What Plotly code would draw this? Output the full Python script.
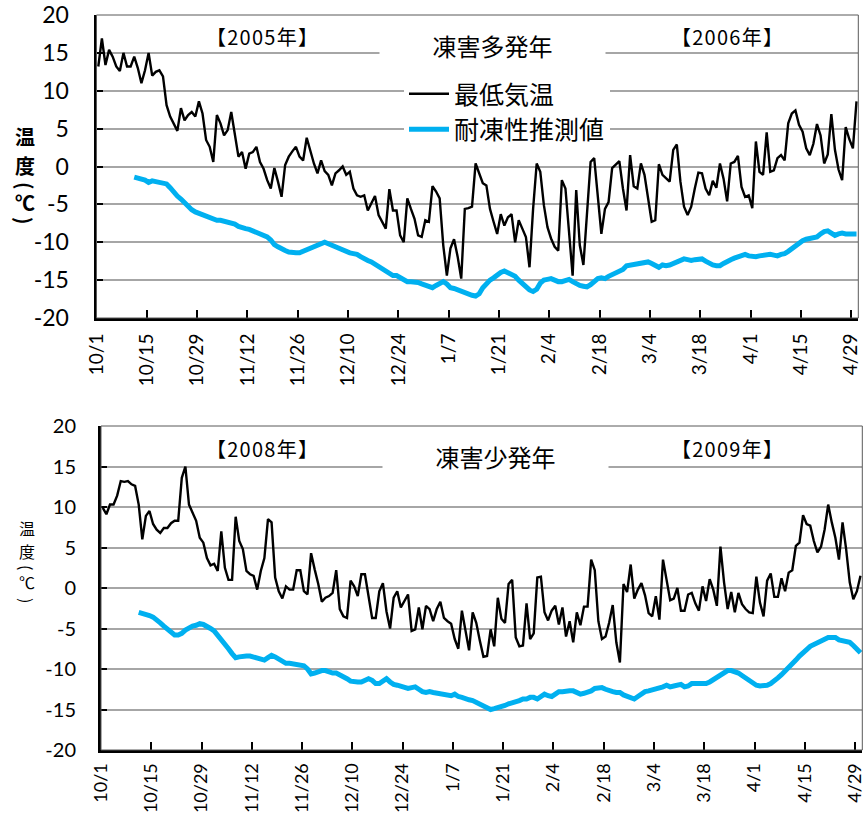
import plotly.graph_objects as go
import pandas as pd

W, H = 868, 814

tick_labels = ["10/1", "10/15", "10/29", "11/12", "11/26", "12/10", "12/24", "1/7",
               "1/21", "2/4", "2/18", "3/4", "3/18", "4/1", "4/15", "4/29"]
y_ticks = [-20, -15, -10, -5, 0, 5, 10, 15, 20]

# daily minimum temperature, 10/1 - 4/30
tmin_2005 = [
    13.2, 16.9, 13.4, 15.4, 14.5, 13.2, 12.6, 15.0, 13.2, 13.2,
    14.5, 13.0, 11.0, 12.7, 15.0, 12.0, 12.5, 12.7, 11.9, 8.1,
    6.6, 5.7, 4.7, 7.7, 6.1, 6.8, 7.2, 6.6, 8.6, 7.0,
    3.5, 2.6, 0.6, 6.8, 5.7, 4.1, 4.8, 7.2, 4.1, 1.3,
    1.9, -0.3, 1.7, 1.9, 2.6, 0.6, -0.3, -1.8, -2.9, -0.2,
    -2.0, -4.0, 0.2, 1.3, 2.0, 2.6, 1.3, 0.8, 3.8, 1.9,
    0.4, -0.9, 0.8, -0.6, -1.1, -2.5, -0.9, -0.5, 0.0, -1.1,
    -0.7, -2.9, -3.8, -4.0, -3.8, -5.8, -4.9, -3.9, -6.4, -7.3,
    -8.2, -3.0, -5.8, -5.8, -9.1, -10.0, -4.2, -5.6, -6.9, -9.1,
    -9.3, -7.1, -7.3, -2.6, -3.3, -4.2, -10.4, -14.4, -10.8, -9.6,
    -11.9, -14.8, -5.6, -5.5, -5.3, 0.4, -1.0, -2.2, -2.5, -5.6,
    -7.3, -8.9, -6.3, -7.8, -6.7, -6.3, -10.0, -7.1, -8.2, -9.3,
    -13.3, -5.6, 0.4, -0.7, -5.1, -8.0, -9.5, -10.6, -11.1, -1.8,
    -2.9, -8.6, -14.4, -3.1, -10.4, -13.0, -6.0, 0.6, 1.1, -4.4,
    -8.9, -5.6, -4.7, -0.2, 0.2, 0.7, -2.9, -5.8, 1.5, -2.6,
    -2.9, 0.4, -1.1, -4.0, -7.3, -7.1, 0.3, -1.1, -1.6, -2.0,
    2.2, 2.9, -2.0, -5.3, -6.4, -5.3, -2.9, -0.8, -0.9, -2.9,
    -3.8, -1.9, -2.8, 0.4, -1.6, -4.6, 0.4, 0.6, 1.4, -2.7,
    -4.0, -3.8, -5.5, 3.3, -0.7, -1.1, 4.5, -0.7, -0.5, 1.1,
    1.5, 0.8, 5.7, 7.0, 7.4, 5.5, 4.6, 2.4, 1.5, 3.0,
    5.6, 4.1, 0.4, 1.6, 6.9, 2.2, -0.4, -1.8, 5.2, 3.6,
    2.4, 8.6,
]

# estimated freezing tolerance, from 10/11
hardiness_2005 = [
    -1.4, -1.5, -1.6, -1.8, -2.1, -1.9, -2.0, -2.1, -2.2, -2.3,
    -2.8, -3.4, -3.9, -4.3, -4.8, -5.3, -5.7, -6.0, -6.2, -6.4,
    -6.6, -6.8, -7.0, -7.1, -7.1, -7.2, -7.3, -7.4, -7.6, -7.9,
    -8.1, -8.2, -8.3, -8.5, -8.7, -8.9, -9.1, -9.3, -9.7, -10.3,
    -10.6, -10.9, -11.1, -11.3, -11.4, -11.4, -11.4, -11.2, -11.0, -10.7,
    -10.5, -10.4, -10.2, -10.0, -10.2, -10.4, -10.7, -10.9, -11.1, -11.2,
    -11.4, -11.5, -11.6, -11.9, -12.2, -12.4, -12.6, -12.9, -13.2, -13.6,
    -13.9, -14.2, -14.4, -14.4, -14.7, -14.9, -15.2, -15.2, -15.2, -15.3,
    -15.5, -15.7, -15.9, -16.0, -15.7, -15.4, -15.2, -15.5, -16.0, -16.1,
    -16.3, -16.5, -16.7, -16.9, -17.0, -17.1, -16.8, -16.0, -15.4, -15.0,
    -14.7, -14.3, -14.0, -13.8, -14.0, -14.3, -14.5, -15.0, -15.5, -15.9,
    -16.3, -16.5, -16.2, -15.4, -15.0, -14.9, -14.8, -15.0, -15.2, -15.2,
    -15.0, -14.9, -15.2, -15.5, -15.7, -15.8, -15.9, -15.6, -15.2, -14.8,
    -14.7, -14.8, -14.5, -14.3, -14.1, -13.9, -13.6, -13.1, -13.0, -13.0,
    -12.9, -12.8, -12.7, -12.6, -12.8, -13.1, -13.3, -13.0, -13.1, -13.0,
    -12.8, -12.5, -12.4, -12.2, -12.3, -12.4, -12.3, -12.2, -12.2, -12.5,
    -12.8, -13.0, -13.1, -13.1, -12.8, -12.5, -12.3, -12.1, -11.9, -11.7,
    -11.6, -11.8, -11.9, -11.9, -11.8, -11.7, -11.6, -11.6, -11.7, -11.8,
    -11.6, -11.5, -11.2, -10.8, -10.4, -10.1, -9.8, -9.6, -9.5, -9.4,
    -9.3, -8.9, -8.6, -8.5, -8.9, -9.1, -8.9, -8.8, -8.9, -8.9,
    -8.8, -8.9,
]

tmin_2008 = [
    9.9, 9.1, 10.3, 10.3, 11.4, 13.2, 13.1, 13.2, 12.8, 12.6,
    10.3, 6.0, 8.9, 9.5, 7.9, 7.2, 6.8, 7.4, 7.4, 8.0,
    8.3, 8.3, 13.6, 15.0, 10.3, 9.3, 8.3, 6.2, 5.6, 3.7,
    2.8, 3.0, 2.1, 7.0, 2.5, 1.0, 1.0, 8.8, 5.8, 4.8,
    2.1, 1.7, 1.5, -0.2, 2.1, 3.7, 8.5, 8.1, 1.3, -0.4,
    -1.3, 0.2, -0.2, -0.2, 2.2, 2.2, -0.4, -0.8, 4.3, 2.3,
    0.5, -1.7, -1.2, -1.0, -0.6, 2.2, -2.6, -3.5, -3.7, 0.9,
    0.2, -1.0, 1.7, 1.7, -1.2, -3.7, -3.7, -0.4, 0.6, -2.9,
    -5.0, -1.2, -0.4, -2.4, -1.6, -0.8, -5.3, -5.1, -2.4, -5.1,
    -2.2, -2.6, -4.1, -2.6, -1.7, -3.7, -4.1, -4.4, -6.3, -7.5,
    -2.8, -5.4, -7.7, -3.0, -4.3, -6.5, -8.5, -8.4, -5.1, -7.2,
    -1.2, -3.8, -4.3, 0.5, 1.0, -6.1, -7.2, -7.1, -1.9, -6.3,
    -5.6, 1.3, 1.4, -3.0, -4.0, -2.8, -2.2, -4.5, -2.4, -6.0,
    -4.1, -6.7, -3.0, -4.6, -2.3, -2.3, 3.5, 2.2, -4.1, -6.3,
    -6.0, -4.3, -2.1, -6.7, -9.2, 0.5, -0.5, 2.9, -1.3, -0.2,
    0.6, -0.9, -3.1, -3.5, -1.0, -3.9, 3.5, 1.0, -1.5, -1.3,
    0.0, -2.8, -2.8, -0.8, -0.6, -1.9, -2.8, 0.2, -1.6, 1.1,
    -0.2, -2.2, 5.1, 0.7, -2.6, -0.5, -3.0, -0.6, -2.0, -2.6,
    -3.0, -3.1, 1.4, -1.8, -3.5, 0.9, 1.8, -1.1, -1.1, 1.2,
    -0.4, 1.9, 2.2, 5.2, 5.6, 9.0, 7.9, 7.7, 5.8, 4.4,
    5.1, 7.2, 10.3, 8.1, 6.2, 3.5, 8.1, 4.8, 0.7, -1.4,
    -0.4, 1.5,
]

hardiness_2008 = [
    -3.0, -3.1, -3.3, -3.4, -3.6, -3.9, -4.3, -4.7, -5.1, -5.5,
    -5.8, -5.8, -5.6, -5.2, -4.9, -4.7, -4.6, -4.4, -4.5, -4.7,
    -5.0, -5.3, -5.8, -6.4, -6.9, -7.5, -8.1, -8.6, -8.5, -8.4,
    -8.4, -8.4, -8.5, -8.6, -8.8, -8.9, -8.6, -8.3, -8.5, -8.8,
    -9.1, -9.3, -9.3, -9.4, -9.4, -9.5, -9.6, -10.0, -10.6, -10.5,
    -10.3, -10.2, -10.2, -10.4, -10.5, -10.5, -10.7, -10.9, -11.2, -11.5,
    -11.6, -11.6, -11.6, -11.4, -11.2, -11.4, -11.8, -11.8, -11.5, -11.2,
    -11.6, -11.9, -12.0, -12.1, -12.3, -12.4, -12.3, -12.2, -12.5, -12.8,
    -12.9, -12.8, -12.9, -13.0, -13.1, -13.1, -13.2, -13.3, -13.1, -13.4,
    -13.5, -13.7, -13.8, -13.9, -14.1, -14.3, -14.6, -14.8, -15.0, -14.9,
    -14.8, -14.7, -14.5, -14.3, -14.2, -14.0, -13.9, -13.7, -13.7, -13.5,
    -13.5, -13.7, -13.4, -13.1, -13.3, -13.4, -13.1, -12.8, -12.8, -12.7,
    -12.7, -12.7, -12.9, -13.1, -13.0, -12.9, -12.7, -12.4, -12.3, -12.3,
    -12.5, -12.7, -12.8, -12.9, -12.9, -13.2, -13.4, -13.6, -13.7, -13.4,
    -13.1, -12.8, -12.7, -12.6, -12.5, -12.3, -12.2, -12.0, -12.2, -12.1,
    -12.0, -11.9, -12.2, -12.1, -11.8, -11.8, -11.8, -11.9, -11.8, -11.6,
    -11.3, -11.0, -10.8, -10.4, -10.2, -10.2, -10.3, -10.5, -10.8, -11.1,
    -11.4, -11.7, -12.0, -12.1, -12.1, -12.0, -11.8, -11.5, -11.1, -10.7,
    -10.3, -9.8, -9.4, -8.9, -8.4, -7.9, -7.6, -7.2, -7.0, -6.7,
    -6.5, -6.3, -6.1, -6.1, -6.1, -6.4, -6.5, -6.5, -6.7, -7.1,
    -7.5, -8.0,
]

HARD_START = 10  # first day with a tolerance estimate (10/11)

seasons = [
    dict(start="2005-10-01", end="2006-05-01", tmin=tmin_2005, hard=hardiness_2005,
         y1="【2005年】", y2="【2006年】", title="凍害多発年"),
    dict(start="2008-10-01", end="2009-05-01", tmin=tmin_2008, hard=hardiness_2008,
         y1="【2008年】", y2="【2009年】", title="凍害少発年"),
]

BLACK = "#000000"
BLUE = "#00B0F0"
GRID = "#A6A6A6"
JP = "Noto Sans CJK JP"
NUM = "Lato, Noto Sans CJK JP"
HS = "\u200a"  # hair space for wider letter spacing

# plot areas in pixels (left, right, top, bottom)
areas = [(96.5, 858.3, 15, 318), (101, 862.3, 426, 750)]

fig = go.Figure()
for k, s in enumerate(seasons):
    xs = pd.date_range(pd.Timestamp(s["start"]) + pd.Timedelta(hours=12), periods=len(s["tmin"]), freq="D")
    xh = xs[HARD_START:HARD_START + len(s["hard"])]
    xa = "x" if k == 0 else "x2"
    ya = "y" if k == 0 else "y2"
    fig.add_trace(go.Scatter(x=xh, y=s["hard"], mode="lines", name="耐凍性推測値",
                             line=dict(color=BLUE, width=5), xaxis=xa, yaxis=ya,
                             showlegend=(k == 0), legendrank=2))
    fig.add_trace(go.Scatter(x=xs, y=s["tmin"], mode="lines", name="最低気温",
                             line=dict(color=BLACK, width=2.4), xaxis=xa, yaxis=ya,
                             showlegend=(k == 0), legendrank=1))

layout = dict(width=W, height=H, margin=dict(l=0, r=0, t=0, b=0),
              paper_bgcolor="white", plot_bgcolor="white", showlegend=True)

shapes = []
annotations = []
for k, s in enumerate(seasons):
    l, r, t, b = areas[k]
    sfx = "" if k == 0 else "2"
    tick_dates = pd.date_range(s["start"], periods=len(tick_labels), freq="14D")
    layout["xaxis" + sfx] = dict(
        domain=[l / W, r / W], anchor="y" + sfx, type="date",
        range=[s["start"], s["end"]], tickvals=list(tick_dates), ticktext=tick_labels,
        tickangle=-90, ticks="inside", ticklen=8, tickwidth=2, tickcolor=BLACK,
        showline=True, linecolor=BLACK, linewidth=3, showgrid=False, zeroline=False,
        tickfont=dict(family=NUM, size=(19 if k == 0 else 18), color=BLACK),
        ticklabelstandoff=(5 if k == 0 else 3), automargin=False,
    )
    layout["yaxis" + sfx] = dict(
        domain=[1 - b / H, 1 - t / H], anchor="x" + sfx, range=[-20, 20],
        tickvals=y_ticks, ticktext=[str(v) for v in y_ticks],
        ticks="inside", ticklen=6, tickwidth=2, tickcolor=BLACK,
        showline=True, linecolor=BLACK, linewidth=3,
        showgrid=True, gridcolor=GRID, gridwidth=1.5, zeroline=False,
        tickfont=dict(family=NUM, size=(23 if k == 0 else 20), color=BLACK),
        ticklabelstandoff=(20 if k == 0 else 18), automargin=False,
    )
    shapes.append(dict(type="rect", xref=f"x{sfx} domain", yref=f"y{sfx} domain",
                       x0=0, x1=1, y0=0, y1=1, line=dict(color="#595959", width=1),
                       layer="above"))
    # year labels and title
    ty = t + 22
    for txt, xc in ((s["y1"], 262), (s["y2"], 727)):
        annotations.append(dict(text=HS.join(txt), xref="paper", yref="paper", x=xc / W, y=1 - ty / H,
                                xanchor="center", yanchor="middle", showarrow=False,
                                font=dict(family=JP, size=20, color=BLACK)))
    annotations.append(dict(text=s["title"], xref="paper", yref="paper",
                            x=(492 if k == 0 else 495) / W, y=1 - (t + 30) / H,
                            xanchor="center", yanchor="middle", showarrow=False,
                            width=223, height=36, bgcolor="white",
                            font=dict(family=JP, size=24, color=BLACK)))

# vertical axis titles: (character, y pixel, rotation)
ylab_top = [("温", 137, 0), ("度", 166, 0), ("(", 186, 90), ("℃", 202, 0), (")", 221, 90)]
ylab_bot = [("温", 528, 0), ("度", 551, 0), ("(", 567, 90), ("℃", 582, 0), (")", 600, 90)]
for ch, yy, ang in ylab_top:
    annotations.append(dict(text=f"<b>{ch}</b>", xref="paper", yref="paper", x=25 / W, y=1 - yy / H,
                            xanchor="center", yanchor="middle", showarrow=False, textangle=ang,
                            font=dict(family=JP, size=20, color=BLACK)))
for ch, yy, ang in ylab_bot:
    annotations.append(dict(text=ch, xref="paper", yref="paper", x=27 / W, y=1 - yy / H,
                            xanchor="center", yanchor="middle", showarrow=False, textangle=ang,
                            font=dict(family=JP, size=16, color=BLACK)))

layout["shapes"] = shapes
layout["annotations"] = annotations
layout["legend"] = dict(x=404 / W, y=1 - 71 / H, xanchor="left", yanchor="top",
                        bgcolor="white", borderwidth=0, traceorder="normal",
                        font=dict(family=JP, size=25, color=BLACK), tracegroupgap=0,
                        itemwidth=40)
fig.update_layout(**layout)

fig.write_html("out.html", config={"displayModeBar": False},
               post_script="document.body.style.margin='0';")
